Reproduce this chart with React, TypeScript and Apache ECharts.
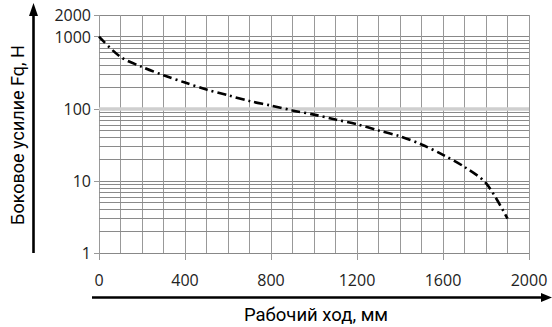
import React, { useEffect, useRef } from "react";
import * as echarts from "echarts";

const strokeMm = [0, 100, 200, 300, 400, 500, 600, 700, 800, 900, 1000, 1100, 1200, 1300, 1400, 1500, 1600, 1700, 1800, 1900];
const forceN = [1000, 524, 381, 292, 231, 185, 154, 128, 111, 95, 83, 71, 61, 50, 41.5, 32, 23, 15.6, 9.3, 3.0];
const minorForceLines = [2, 3, 4, 5, 6, 7, 8, 9, 20, 30, 40, 50, 60, 70, 80, 90, 200, 300, 400, 500, 600, 700, 800, 900];
const bandLine = [100];
const yTitle = "Боковое усилие Fq, H";
const xTitle = "Рабочий ход, мм";

const GRID_LEFT = 99;
const GRID_RIGHT = 23;
const GRID_TOP = 15;
const GRID_BOTTOM = 74;

export default function App() {
  const ref = useRef<HTMLDivElement>(null);
  useEffect(() => {
    if (!ref.current) return;
    const chart = echarts.init(ref.current, null, { renderer: "svg" });
    const labelFont = { fontFamily: "Open Sans", fontSize: 16, color: "#222" };
    chart.setOption({
      animation: false,
      grid: { left: GRID_LEFT, right: GRID_RIGHT, top: GRID_TOP, bottom: GRID_BOTTOM, containLabel: false },
      xAxis: {
        type: "value",
        min: 0,
        max: 2000,
        interval: 400,
        axisLine: { show: false },
        axisTick: { show: true, length: 7, lineStyle: { color: "#999", width: 1 } },
        axisLabel: { ...labelFont, margin: 19, formatter: (v: number) => String(v) },
        splitLine: { show: true, lineStyle: { color: "#999", width: 1 } },
        minorTick: { show: false, splitNumber: 4 },
        minorSplitLine: { show: true, lineStyle: { color: "#999", width: 1 } },
      },
      yAxis: {
        type: "log",
        logBase: 10,
        min: 1,
        max: 2000,
        axisLine: { show: false },
        axisTick: { show: true, length: 5, lineStyle: { color: "#999", width: 1 } },
        axisLabel: { ...labelFont, margin: 8, formatter: (v: number) => String(Math.round(v)) },
        splitLine: { show: true, lineStyle: { color: "#888", width: 1 } },
      },
      series: [
        {
          type: "line",
          z: 1,
          data: strokeMm.map((x, i) => [x, forceN[i]]),
          symbol: "none",
          lineStyle: { opacity: 0 },
          silent: true,
          markLine: {
            silent: true,
            symbol: "none",
            label: { show: false },
            data: [
              ...minorForceLines.map((v) => ({ yAxis: v, lineStyle: { color: "#8a8a8a", width: 1, type: "solid" } })),
              ...bandLine.map((v) => ({ yAxis: v, lineStyle: { color: "#cfcfcf", width: 3.5, type: "solid" } })),
            ],
          },
        },
        {
          type: "line",
          z: 5,
          data: strokeMm.map((x, i) => [x, forceN[i]]),
          symbol: "none",
          smooth: 0.3,
          lineStyle: { color: "#000", width: 2.6, type: [9, 4, 2, 4], cap: "butt" },
        },
      ],
      graphic: [
        {
          type: "line",
          shape: { x1: 33.5, y1: 253, x2: 33.5, y2: 14 },
          style: { stroke: "#000", lineWidth: 2.6 },
        },
        {
          type: "polygon",
          shape: { points: [[33.5, 3], [29, 16], [38, 16]] },
          style: { fill: "#000" },
        },
        {
          type: "line",
          shape: { x1: 92, y1: 297.5, x2: 543, y2: 297.5 },
          style: { stroke: "#000", lineWidth: 2.6 },
        },
        {
          type: "polygon",
          shape: { points: [[552, 297.5], [541, 293], [541, 302]] },
          style: { fill: "#000" },
        },
        {
          type: "text",
          x: 17,
          y: 135,
          rotation: Math.PI / 2,
          style: {
            text: yTitle,
            fontFamily: "Roboto",
            fontSize: 18,
            fill: "#000",
            align: "center",
            verticalAlign: "middle",
          },
        },
        {
          type: "text",
          x: 316,
          y: 315,
          style: {
            text: xTitle,
            fontFamily: "Roboto",
            fontSize: 18.5,
            fill: "#000",
            align: "center",
            verticalAlign: "middle",
          },
        },
      ],
    });
    return () => chart.dispose();
  }, []);
  return (
    <div
      ref={ref}
      style={{ position: "fixed", left: 0, top: 0, width: 552, height: 327, background: "#fff" }}
    />
  );
}
